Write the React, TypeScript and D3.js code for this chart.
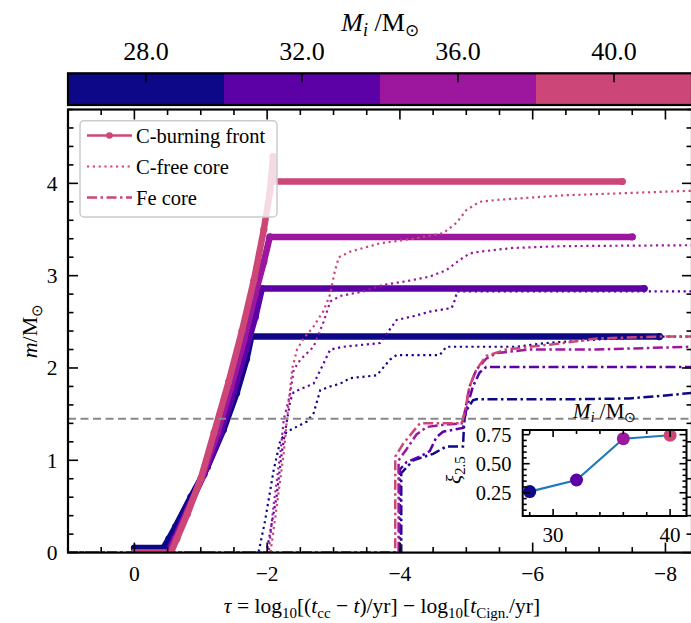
import React from 'react';
import * as d3 from 'd3';

// ---------------- data ----------------
const masses = [28, 32, 36, 40];
const colors = ['#0d0887', '#5c01a6', '#9c179e', '#cc4778'];
const xi25 = [0.26, 0.36, 0.715, 0.745];

const xMajorTicks = [0, -2, -4, -6, -8];
const yMajorTicks = [0, 1, 2, 3, 4];
const cbTicks = [28, 32, 36, 40];
const cbEdges = [26, 30, 34, 38, 42];
const insetXTicks = [30, 40];
const insetYTicks = [0.25, 0.5, 0.75];
const ironLine = 1.45;

// C-burning front [tau, m]
const front28 = [[0, 0.05], [-0.44, 0.05], [-0.52, 0.15], [-0.62, 0.28], [-0.85, 0.6], [-1.1, 0.93], [-1.34, 1.33], [-1.54, 1.73], [-1.69, 2.1], [-1.76, 2.34], [-7.91, 2.34]];
const front32 = [[0, 0], [-0.5, 0], [-0.6, 0.15], [-0.82, 0.5], [-1.05, 0.85], [-1.3, 1.3], [-1.5, 1.75], [-1.68, 2.2], [-1.82, 2.55], [-1.92, 2.86], [-7.68, 2.86]];
const front36 = [[0, 0], [-0.52, 0], [-0.62, 0.15], [-0.8, 0.45], [-1.02, 0.82], [-1.25, 1.3], [-1.45, 1.78], [-1.65, 2.3], [-1.82, 2.8], [-1.95, 3.15], [-2.04, 3.42], [-7.5, 3.42]];
const front40 = [[0, 0], [-0.55, 0], [-0.64, 0.15], [-0.8, 0.42], [-1.0, 0.8], [-1.2, 1.3], [-1.42, 1.85], [-1.62, 2.4], [-1.8, 2.95], [-1.95, 3.5], [-2.04, 3.9], [-2.09, 4.29], [-2.1, 4.02], [-7.35, 4.02]];

// C-free core
const cfree28 = [[1, 0], [-1.87, 0], [-1.97, 0.35], [-2.1, 0.9], [-2.2, 1.22], [-2.3, 1.31], [-2.6, 1.42], [-2.7, 1.51], [-2.8, 1.76], [-2.95, 1.8], [-3.1, 1.83], [-3.25, 1.89], [-3.65, 1.92], [-3.85, 2.09], [-3.95, 2.14], [-4.6, 2.14], [-4.7, 2.23], [-5.75, 2.23], [-6.2, 2.27], [-7.0, 2.31], [-7.9, 2.34], [-8.4, 2.34]];
const cfree32 = [[1, 0], [-1.99, 0], [-2.14, 0.6], [-2.22, 1.08], [-2.3, 1.44], [-2.35, 1.65], [-2.4, 1.74], [-2.7, 1.83], [-2.85, 2.05], [-2.95, 2.2], [-3.15, 2.23], [-3.7, 2.27], [-3.82, 2.39], [-3.95, 2.52], [-4.2, 2.56], [-4.45, 2.61], [-4.78, 2.65], [-4.83, 2.74], [-4.86, 2.83], [-8.4, 2.83]];
const cfree36 = [[1, 0], [-2.02, 0], [-2.1, 0.53], [-2.2, 1.08], [-2.25, 1.44], [-2.35, 1.73], [-2.4, 1.98], [-2.5, 2.09], [-2.7, 2.23], [-2.85, 2.5], [-2.95, 2.72], [-3.1, 2.78], [-3.45, 2.83], [-3.75, 2.9], [-4.1, 2.94], [-4.45, 2.99], [-4.7, 3.06], [-4.9, 3.17], [-5.05, 3.24], [-5.2, 3.26], [-5.7, 3.3], [-6.46, 3.32], [-8.4, 3.33]];
const cfree40 = [[1, 0], [-2.05, 0], [-2.15, 0.53], [-2.25, 1.08], [-2.32, 1.6], [-2.38, 2.0], [-2.45, 2.2], [-2.55, 2.32], [-2.7, 2.45], [-2.85, 2.62], [-2.95, 2.8], [-3.02, 3.05], [-3.08, 3.2], [-3.25, 3.26], [-3.7, 3.35], [-4.2, 3.4], [-4.65, 3.46], [-4.85, 3.57], [-5.0, 3.71], [-5.2, 3.8], [-5.45, 3.82], [-6.46, 3.87], [-8.4, 3.92]];

// Fe core
const fe28 = [[1, 0], [-4.02, 0], [-4.02, 0.86], [-4.2, 1.0], [-4.5, 1.07], [-4.6, 1.11], [-4.7, 1.15], [-4.95, 1.15], [-4.97, 1.44], [-5.0, 1.54], [-5.1, 1.65], [-5.15, 1.66], [-6.46, 1.66], [-7.46, 1.67], [-7.96, 1.7], [-8.4, 1.73]];
const fe32 = [[1, 0], [-4.0, 0], [-4.0, 0.9], [-4.1, 0.98], [-4.3, 1.04], [-4.45, 1.1], [-4.55, 1.25], [-4.65, 1.31], [-4.95, 1.35], [-5.0, 1.55], [-5.1, 1.8], [-5.2, 1.95], [-5.3, 2.01], [-8.4, 2.01]];
const fe36 = [[1, 0], [-3.98, 0], [-3.98, 1.0], [-4.1, 1.12], [-4.25, 1.28], [-4.4, 1.36], [-4.6, 1.38], [-4.93, 1.4], [-4.97, 1.5], [-5.05, 1.8], [-5.15, 1.98], [-5.3, 2.1], [-5.45, 2.16], [-5.95, 2.2], [-6.95, 2.2], [-8.4, 2.23]];
const fe40 = [[1, 0], [-3.93, 0], [-3.93, 1.04], [-4.05, 1.18], [-4.3, 1.4], [-4.93, 1.4], [-4.97, 1.5], [-5.05, 1.8], [-5.15, 1.98], [-5.3, 2.13], [-5.6, 2.2], [-6.46, 2.27], [-6.96, 2.32], [-7.96, 2.34], [-8.4, 2.34]];

const fronts = [front28, front32, front36, front40];
const cfrees = [cfree28, cfree32, cfree36, cfree40];
const fes = [fe28, fe32, fe36, fe40];

const minus = (v: number) => (v < 0 ? '\u2212' + Math.abs(v) : String(v));

type TProps = { x?: number; y?: number; size: number; anchor?: string; transform?: string; children?: React.ReactNode };
function T({ x, y, size, anchor = 'start', transform, children }: TProps) {
  return (
    <text x={x} y={y} transform={transform} textAnchor={anchor} fontSize={size} style={{ fontFamily: '"Liberation Serif"' }}>
      {children}
    </text>
  );
}

export default function App() {
  const W = 691, H = 623;
  const L = 68, R = 692, TOP = 109.5, B = 552.6;
  const x = d3.scaleLinear().domain([1, -8.4]).range([L, R]);
  const y = d3.scaleLinear().domain([0, 4.8]).range([B, TOP]);
  const line = d3.line<number[]>().x(d => x(d[0])).y(d => y(d[1]));

  const cbT = 73.3, cbB = 105;
  const cb = d3.scaleLinear().domain([26, 42]).range([L, R]);

  const iL = 522.7, iR = 686.5, iT = 430, iB = 516;
  const ix = d3.scaleLinear().domain([27.4, 41.4]).range([iL, iR]);
  const iy = d3.scaleLinear().domain([0.05, 0.79]).range([iB, iT]);
  const iline = d3.line<number>().x((d, i) => ix(masses[i])).y(d => iy(d));

  const xMinor = d3.range(1, -8.41, -0.5).filter(v => !xMajorTicks.includes(v) && v < 1);
  const yMinor = d3.range(0, 4.81, 0.2).filter(v => Math.abs(v - Math.round(v)) > 0.01);
  const ixMinor = d3.range(28, 41.4, 2).filter(v => !insetXTicks.includes(v));
  const iyMinor = d3.range(0.05, 0.79, 0.05).filter(v => !insetYTicks.some(t => Math.abs(t - v) < 0.001));

  const tickStyle = { stroke: '#000', strokeWidth: 1.6 };

  return (
    <svg width={W} height={H} style={{ position: 'absolute', left: 0, top: 0, background: '#fff', fontFamily: '"Liberation Serif"' }}>
      <style>{`text, tspan { font-family: "Liberation Serif" !important; }`}</style>
      <defs>
        <clipPath id="plotclip"><rect x={L} y={TOP} width={R - L} height={B - TOP} /></clipPath>
        <clipPath id="insetclip"><rect x={iL} y={iT} width={iR - iL} height={iB - iT} /></clipPath>
      </defs>
      <rect x={0} y={0} width={W} height={H} fill="#fff" />

      {/* colorbar */}
      {colors.map((c, i) => (
        <rect key={'cb' + i} x={cb(cbEdges[i])} y={cbT} width={cb(cbEdges[i + 1]) - cb(cbEdges[i])} height={cbB - cbT} fill={c} />
      ))}
      <rect x={L} y={cbT} width={R - L} height={cbB - cbT} fill="none" stroke="#000" strokeWidth={2.2} />
      {cbTicks.map(t => (
        <line key={'cbt' + t} x1={cb(t)} x2={cb(t)} y1={cbT} y2={cbT + 9} {...tickStyle} />
      ))}
      {cbTicks.map(t => (
        <T key={'cbl' + t} x={cb(t)} y={60} anchor="middle" size={26}>{t.toFixed(1)}</T>
      ))}
      <T x={380} y={31} anchor="middle" size={26}>
        <tspan fontStyle="italic">M</tspan><tspan fontStyle="italic" fontSize={18} dy={5}>i</tspan><tspan dy={-5}> /M</tspan><tspan fontSize={17} dy={5}>⊙</tspan>
      </T>

      {/* main plot lines */}
      <g clipPath="url(#plotclip)">
        {masses.map((m, i) => (
          <g key={'s' + m}>
            <path d={line(fronts[i]) || ''} fill="none" stroke={colors[i]} strokeWidth={6.5} strokeLinecap="round" strokeLinejoin="round" />
            {fronts[i].map((p, j) => (
              <circle key={j} cx={x(p[0])} cy={y(p[1])} r={3.6} fill={colors[i]} />
            ))}
            <path d={line(cfrees[i]) || ''} fill="none" stroke={colors[i]} strokeWidth={2.2} strokeDasharray="2.2,3.6" />
            <path d={line(fes[i]) || ''} fill="none" stroke={colors[i]} strokeWidth={2.5} strokeDasharray="10,3.5,2.5,3.5" />
          </g>
        ))}
        <line x1={L} x2={R} y1={y(ironLine)} y2={y(ironLine)} stroke="#888" strokeWidth={2} strokeDasharray="8,4.5" />
      </g>

      {/* main axes frame */}
      <rect x={L} y={TOP} width={R - L} height={B - TOP} fill="none" stroke="#000" strokeWidth={2.2} />
      {xMajorTicks.map(t => (
        <g key={'xt' + t}>
          <line x1={x(t)} x2={x(t)} y1={B} y2={B - 10} {...tickStyle} />
          <line x1={x(t)} x2={x(t)} y1={TOP} y2={TOP + 10} {...tickStyle} />
        </g>
      ))}
      {xMajorTicks.map(t => (
        <T key={'xl' + t} x={x(t)} y={581} anchor="middle" size={21.5}>{minus(t)}</T>
      ))}
      {xMinor.map(t => (
        <g key={'xm' + t}>
          <line x1={x(t)} x2={x(t)} y1={B} y2={B - 5.5} {...tickStyle} />
          <line x1={x(t)} x2={x(t)} y1={TOP} y2={TOP + 5.5} {...tickStyle} />
        </g>
      ))}
      {yMajorTicks.map(t => (
        <g key={'yt' + t}>
          <line x1={L} x2={L + 10} y1={y(t)} y2={y(t)} {...tickStyle} />
          <line x1={R} x2={R - 10} y1={y(t)} y2={y(t)} {...tickStyle} />
        </g>
      ))}
      {yMajorTicks.map(t => (
        <T key={'yl' + t} x={57.5} y={y(t) + 7.5} anchor="end" size={21.5}>{String(t)}</T>
      ))}
      {yMinor.map(t => (
        <g key={'ym' + t}>
          <line x1={L} x2={L + 5.5} y1={y(t)} y2={y(t)} {...tickStyle} />
          <line x1={R} x2={R - 5.5} y1={y(t)} y2={y(t)} {...tickStyle} />
        </g>
      ))}

      {/* axis labels */}
      <T x={382} y={613} anchor="middle" size={21.5}>
        <tspan fontStyle="italic">τ</tspan> = log<tspan fontSize={15} dy={5}>10</tspan><tspan dy={-5}>[(</tspan><tspan fontStyle="italic">t</tspan><tspan fontSize={15} dy={5}>cc</tspan><tspan dy={-5}> − </tspan><tspan fontStyle="italic">t</tspan>)/yr] − log<tspan fontSize={15} dy={5}>10</tspan><tspan dy={-5}>[</tspan><tspan fontStyle="italic">t</tspan><tspan fontSize={15} dy={5}>Cign.</tspan><tspan dy={-5}>/yr]</tspan>
      </T>
      <T transform={`translate(37, ${(TOP + B) / 2}) rotate(-90)`} anchor="middle" size={22}>
        <tspan fontStyle="italic">m</tspan>/M<tspan fontSize={15} dy={5}>⊙</tspan>
      </T>

      {/* legend */}
      <rect x={80} y={120.7} width={197} height={96.3} rx={4} fill="#fff" fillOpacity={0.8} stroke="#cccccc" strokeWidth={1.5} />
      <line x1={87} x2={132} y1={135.5} y2={135.5} stroke={colors[3]} strokeWidth={2.6} />
      <circle cx={109.5} cy={135.5} r={3.3} fill={colors[3]} />
      <T x={136} y={142.5} size={20.5}>C-burning front</T>
      <line x1={87} x2={132} y1={166.5} y2={166.5} stroke={colors[3]} strokeWidth={2.2} strokeDasharray="2.2,3.6" />
      <T x={136} y={173.5} size={20.5}>C-free core</T>
      <line x1={87} x2={132} y1={197.5} y2={197.5} stroke={colors[3]} strokeWidth={2.5} strokeDasharray="10,3.5,2.5,3.5" />
      <T x={136} y={204.5} size={20.5}>Fe core</T>

      {/* inset */}
      <rect x={iL} y={iT} width={iR - iL} height={iB - iT} fill="#fff" />
      <g clipPath="url(#insetclip)">
        <path d={iline(xi25) || ''} fill="none" stroke="#1f7ab8" strokeWidth={2.2} />
        {xi25.map((v, i) => (
          <circle key={'ip' + i} cx={ix(masses[i])} cy={iy(v)} r={6.5} fill={colors[i]} />
        ))}
      </g>
      <rect x={iL} y={iT} width={iR - iL} height={iB - iT} fill="none" stroke="#000" strokeWidth={2} />
      {insetXTicks.map(t => (
        <g key={'ixt' + t}>
          <line x1={ix(t)} x2={ix(t)} y1={iB} y2={iB - 7} {...tickStyle} />
          <line x1={ix(t)} x2={ix(t)} y1={iT} y2={iT + 7} {...tickStyle} />
        </g>
      ))}
      {insetXTicks.map(t => (
        <T key={'ixl' + t} x={ix(t)} y={542} anchor="middle" size={21}>{String(t)}</T>
      ))}
      {ixMinor.map(t => (
        <g key={'ixm' + t}>
          <line x1={ix(t)} x2={ix(t)} y1={iB} y2={iB - 4} {...tickStyle} />
          <line x1={ix(t)} x2={ix(t)} y1={iT} y2={iT + 4} {...tickStyle} />
        </g>
      ))}
      {insetYTicks.map(t => (
        <g key={'iyt' + t}>
          <line x1={iL} x2={iL + 7} y1={iy(t)} y2={iy(t)} {...tickStyle} />
          <line x1={iR} x2={iR - 7} y1={iy(t)} y2={iy(t)} {...tickStyle} />
        </g>
      ))}
      {insetYTicks.map(t => (
        <T key={'iyl' + t} x={511.5} y={iy(t) + 7} anchor="end" size={20.5}>{t.toFixed(2)}</T>
      ))}
      {iyMinor.map(t => (
        <g key={'iym' + t}>
          <line x1={iL} x2={iL + 4} y1={iy(t)} y2={iy(t)} {...tickStyle} />
          <line x1={iR} x2={iR - 4} y1={iy(t)} y2={iy(t)} {...tickStyle} />
        </g>
      ))}
      <T x={(iL + iR) / 2} y={418} anchor="middle" size={21}>
        <tspan fontStyle="italic">M</tspan><tspan fontStyle="italic" fontSize={15} dy={4}>i</tspan><tspan dy={-4}> /M</tspan><tspan fontSize={14} dy={4}>⊙</tspan>
      </T>
      <T transform={`translate(461, 470) rotate(-90)`} anchor="middle" size={21}>
        <tspan fontStyle="italic">ξ</tspan><tspan fontSize={15} dy={4}>2.5</tspan>
      </T>
    </svg>
  );
}
